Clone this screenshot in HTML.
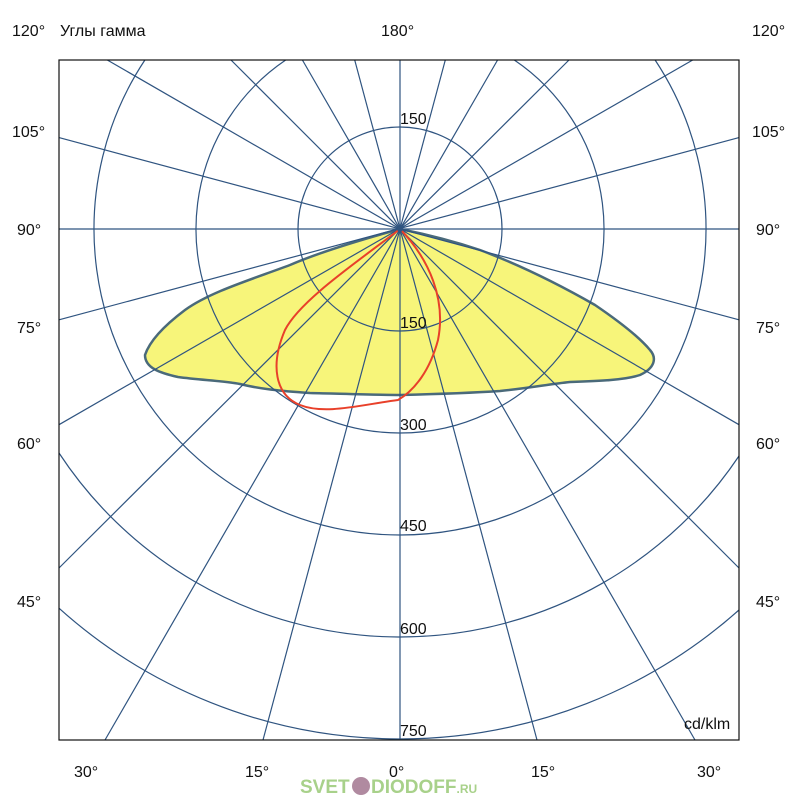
<!DOCTYPE html>
<html><head><meta charset="utf-8"><style>
html,body{margin:0;padding:0;background:#fff;width:800px;height:800px;overflow:hidden}
svg{display:block}
svg text{font-family:"Liberation Sans",sans-serif;fill:#111}
</style></head><body>
<svg width="800" height="800" viewBox="0 0 800 800">
<path d="M400,229 C360,240 320,252 290,265 C250,280 210,292 185,310 C165,325 150,340 145,355 C145,368 160,373 178,377 C200,380 225,381 240,384 C260,389 280,391 310,393 C350,394 380,395 400,395 C440,394 470,393 500,391 C530,388 550,384 570,382 C600,381 625,380 640,375 C655,368 657,358 650,350 C640,338 620,322 595,305 C560,285 520,265 480,250 C450,240 420,233 400,229 Z" fill="#f7f57a" stroke="#4a6a7a" stroke-width="2.5"/>
<g fill="none" stroke="#2f5480" stroke-width="1.2">
<circle cx="400" cy="229" r="102"/>
<path d="M514.3,60 A204,204 0 1 1 285.7,60"/>
<path d="M655.1,60 A306,306 0 1 1 144.9,60"/>
<path d="M739,456 A408,408 0 0 1 59,453"/>
<path d="M739,610 A510,510 0 0 1 59,608.2"/>
<line x1="400" y1="740" x2="400" y2="60"/>
<line x1="537" y1="740" x2="354.7" y2="60"/>
<line x1="695" y1="740" x2="302.4" y2="60"/>
<line x1="739" y1="568" x2="231" y2="60"/>
<line x1="739" y1="424.7" x2="107.3" y2="60"/>
<line x1="739" y1="319.8" x2="59" y2="137.6"/>
<line x1="739" y1="229" x2="59" y2="229"/>
<line x1="263" y1="740" x2="445.3" y2="60"/>
<line x1="105" y1="740" x2="497.6" y2="60"/>
<line x1="59" y1="568" x2="569" y2="60"/>
<line x1="59" y1="424.7" x2="692.7" y2="60"/>
<line x1="59" y1="319.8" x2="739" y2="137.6"/>
</g>
<path d="M400,229 C360,260 300,300 285,330 C270,365 275,395 300,405 C325,415 360,405 398,400 C415,390 430,370 438,340 C446,300 430,260 400,229 Z" fill="none" stroke="#e8402a" stroke-width="2"/>
<rect x="59" y="60" width="680" height="680" fill="none" stroke="#111" stroke-width="1.2"/>
<circle cx="400" cy="229" r="3" fill="#2f5480"/>
<g font-size="16">
<text x="12" y="36">120°</text><text x="60" y="36">Углы гамма</text><text x="381" y="36">180°</text><text x="752" y="36">120°</text>
<text x="12" y="137">105°</text><text x="752" y="137">105°</text>
<text x="17" y="235">90°</text><text x="756" y="235">90°</text>
<text x="17" y="333">75°</text><text x="756" y="333">75°</text>
<text x="17" y="449">60°</text><text x="756" y="449">60°</text>
<text x="17" y="607">45°</text><text x="756" y="607">45°</text>
<text x="74" y="777">30°</text><text x="245" y="777">15°</text><text x="389" y="777">0°</text><text x="531" y="777">15°</text><text x="697" y="777">30°</text>
<text x="400" y="124">150</text><text x="400" y="328">150</text><text x="400" y="430">300</text><text x="400" y="531">450</text><text x="400" y="634">600</text><text x="400" y="736">750</text>
<text x="684" y="729">cd/klm</text>
</g>
<text x="300" y="793" font-size="19" font-weight="bold" style="fill:#a8d18a">SVET</text>
<circle cx="361" cy="786" r="9" fill="#b08aa0"/>
<text x="371" y="793" font-size="19" font-weight="bold" style="fill:#a8d18a">DIODOFF<tspan font-size="12">.RU</tspan></text>
</svg>
</body></html>
